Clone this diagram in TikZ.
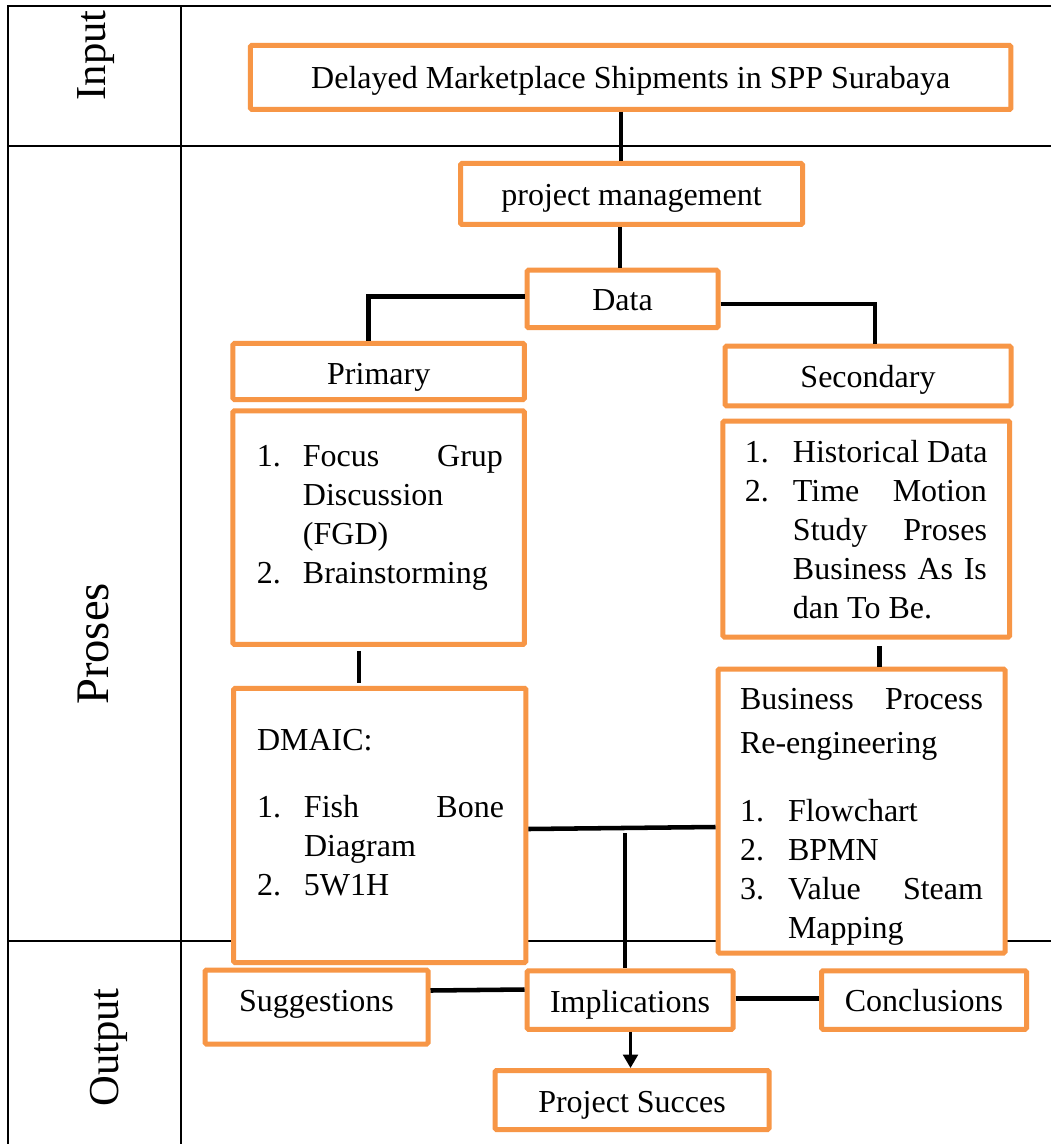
\documentclass[tikz,border=0pt]{standalone}
\usepackage{fontspec}
\setmainfont{Liberation Serif}
\usetikzlibrary{arrows.meta}
\definecolor{boxorange}{HTML}{F79646}
\newcommand\boxtext[5]{\parbox[c][#2][t]{#1}{\leftskip=#3\relax\vspace*{#4}#5}}
\begin{document}
\begin{tikzpicture}[x=0.75pt,y=-0.75pt,
  every node/.style={font=\fontsize{24}{29.25}\selectfont, inner sep=0pt},
  obox/.style 2 args={draw=boxorange, line width=3.75pt, fill=white, rounded corners=1pt,
     minimum width=#1*0.75pt, minimum height=#2*0.75pt},
  lbl/.style={text height=20pt, text depth=2pt},
  tline/.style={line width=1.5pt},
  conn/.style={line width=3.4pt},
  side/.style={rotate=90, anchor=base, font=\fontsize{32}{38}\selectfont}]
\useasboundingbox (0,0) rectangle (1051,1144);
\fill[white] (0,0) rectangle (1051,1144);

% table
\draw[tline] (1051,6) -- (8,6) -- (8,1144);
\draw[tline] (181,6) -- (181,1144);
\draw[tline] (8,146.5) -- (1051,146.5);
\draw[tline] (8,941) -- (1051,941);

\node[side] (lin) at (105,55.5) {Input};
\node[side, font=\fontsize{35}{40}\selectfont] (lpr) at (108,644) {Proses};
\node[side] (lout) at (118,1047.5) {Output};

% boxes
\node[obox={760.5}{64}, lbl, text height=18pt, text depth=1.8pt] (deli) at (630.7,77.5) {Delayed Marketplace Shipments in SPP Surabaya};
\node[obox={342}{61}, lbl] (pm) at (631.5,194) {project management};
\node[obox={191}{57.5}, lbl] (data) at (622.5,299) {Data};
\node[obox={291.5}{56}, lbl, text height=21pt, text depth=0.8pt] (prim) at (378.7,371.5) {Primary};
\node[obox={286}{59.5}, lbl, text height=19pt, text depth=2pt] (sec) at (868,376) {Secondary};

\node[obox={291.5}{233.5}] (plist) at (378.7,527.7) {\boxtext{218.6pt}{175.1pt}{18pt}{21.5pt}{%
\strut\makebox[34.5pt][l]{1.}\makebox[150pt][s]{Focus Grup}\\
\strut\hspace*{34.5pt}Discussion\\
\strut\hspace*{34.5pt}(FGD)\\
\strut\makebox[34.5pt][l]{2.}Brainstorming}};

\node[obox={286.7}{216}] (slist) at (866.3,529) {\boxtext{215pt}{162pt}{16.5pt}{11pt}{%
\strut\makebox[36pt][l]{1.}Historical Data\\
\strut\makebox[36pt][l]{2.}\makebox[145.5pt][s]{Time Motion}\\
\strut\hspace*{36pt}\makebox[145.5pt][s]{Study Proses}\\
\strut\hspace*{36pt}\makebox[145.5pt][s]{Business As Is}\\
\strut\hspace*{36pt}dan To Be.}};

\node[obox={292.3}{274.2}] (dmaic) at (379.8,825.4) {\boxtext{219.2pt}{205.6pt}{17.5pt}{26.5pt}{%
\strut DMAIC:\\[21pt]
\strut\makebox[35.25pt][l]{1.}\makebox[150pt][s]{Fish Bone}\\
\strut\hspace*{35.25pt}Diagram\\
\strut\makebox[35.25pt][l]{2.}5W1H}};

\node[obox={287}{284}] (bpr) at (861.5,811) {\boxtext{215.25pt}{213pt}{16.5pt}{9.7pt}{%
\strut\makebox[182.25pt][s]{Business Process}\\[3.75pt]
\strut Re-engineering\\[21.75pt]
\strut\makebox[36pt][l]{1.}Flowchart\\
\strut\makebox[36pt][l]{2.}BPMN\\
\strut\makebox[36pt][l]{3.}\makebox[146.25pt][s]{Value Steam}\\
\strut\hspace*{36pt}Mapping}};

\node[obox={223}{74}, lbl, text height=14pt, text depth=8pt] (sugg) at (316.5,1007) {Suggestions};
\node[obox={206}{58.5}, lbl] (impl) at (630,1000) {Implications};
\node[obox={205}{58.5}, lbl, text height=19.5pt, text depth=2pt] (concl) at (924,1000) {Conclusions};
\node[obox={274}{59}, lbl] (ps) at (632,1100) {Project Succes};

% connectors
\draw[conn] (deli.south -| 621,0) -- (pm.north -| 621,0);
\draw[conn] (pm.south -| 620,0) -- (data.north -| 620,0);
\draw[conn] (data.west |- 0,296.5) -| (prim.north -| 368.5,0);
\draw[conn] (data.east |- 0,303.8) -| (sec.north -| 875,0);
\draw[conn, shorten <=3pt, shorten >=2pt] (plist.south -| 359,0) -- (dmaic.north -| 359,0);
\draw[conn, shorten <=5pt] (slist.south -| 879.3,0) -- (bpr.north -| 879.3,0);
\draw[conn] (dmaic.east |- 0,829) -- (bpr.west |- 0,827);
\coordinate (jn) at (625,833);
\draw[line width=3pt] (jn) -- (impl.north -| jn);
\draw[conn] (sugg.east |- 0,990.5) -- (impl.west |- 0,989.5);
\draw[line width=3.75pt] (impl.east |- 0,998.5) -- (concl.west |- 0,998.5);
\draw[line width=2.2pt, -{Triangle[length=10pt,width=11pt]}] (impl.south -| 630.5,0) -- (ps.north -| 630.5,0);
\end{tikzpicture}
\end{document}
